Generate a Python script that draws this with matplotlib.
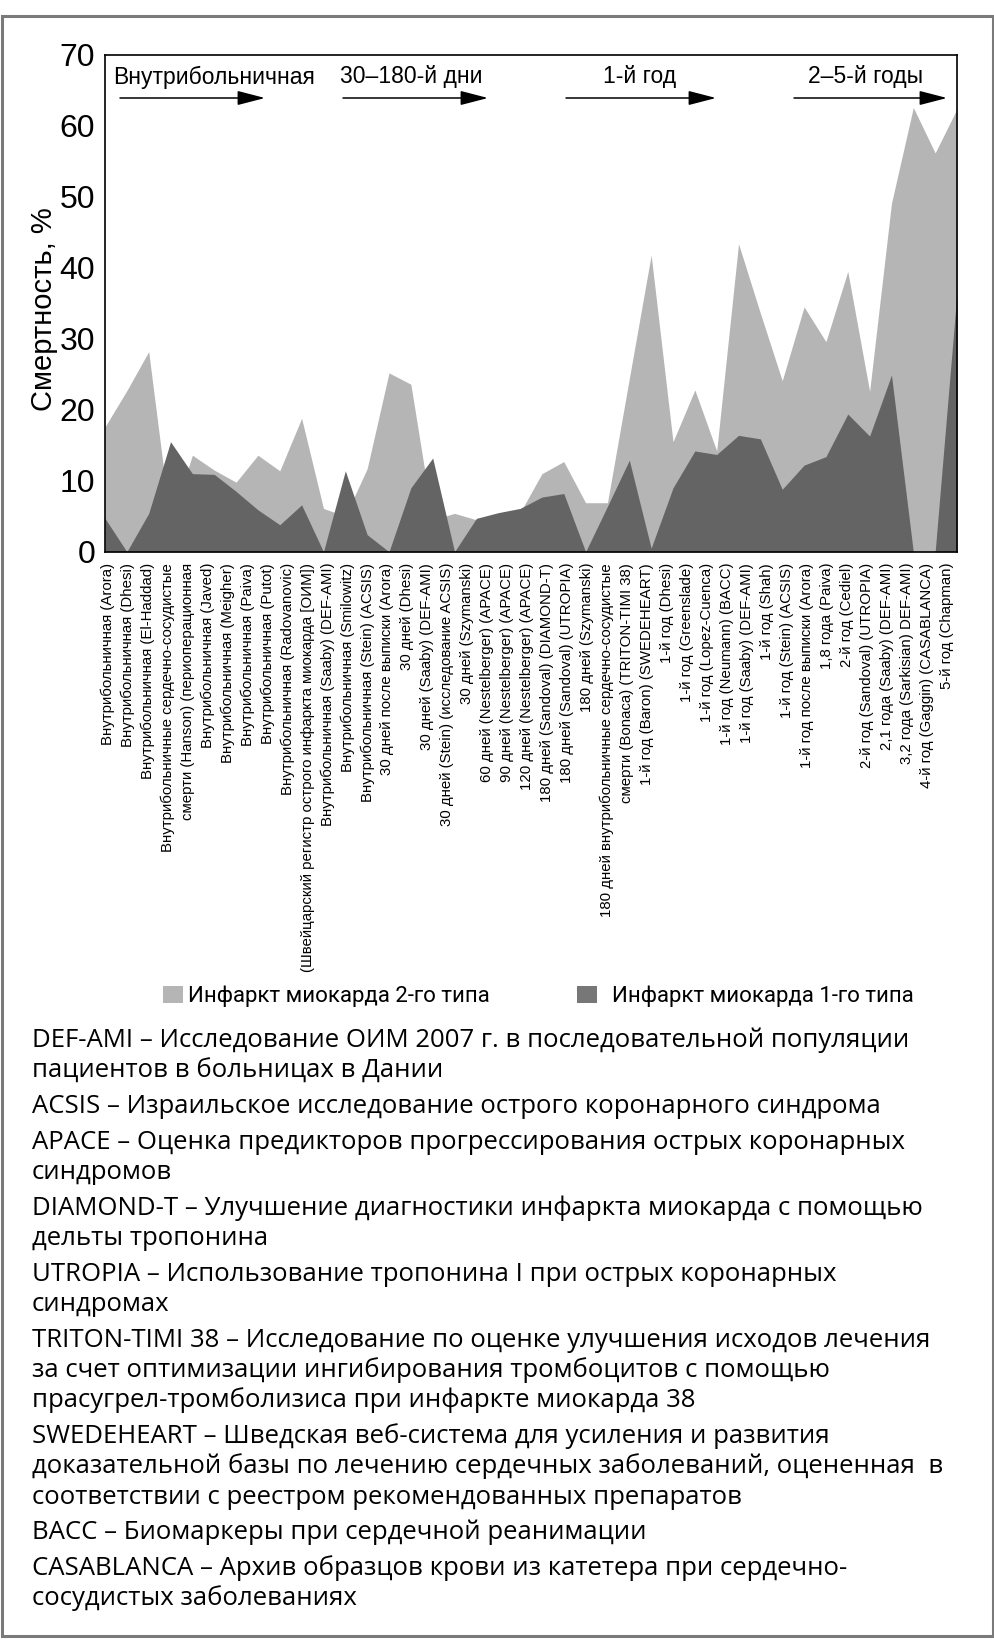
import matplotlib
matplotlib.use("Agg")
import matplotlib.pyplot as plt
from matplotlib.patches import Rectangle
import numpy as np

W, H = 995, 1641

# ---- data -----------------------------------------------------------------
categories = [
    "Внутрибольничная (Arora)",
    "Внутрибольничная (Dhesi)",
    "Внутрибольничная (El-Haddad)",
    "Внутрибольничные сердечно-сосудистые\nсмерти (Hanson) (периоперационная",
    "Внутрибольничная (Javed)",
    "Внутрибольничная (Meigher)",
    "Внутрибольничная (Paiva)",
    "Внутрибольничная (Putot)",
    "Внутрибольничная (Radovanovic)\n(Швейцарский регистр острого инфаркта миокарда [ОИМ])",
    "Внутрибольничная (Saaby) (DEF-AMI)",
    "Внутрибольничная (Smilowitz)",
    "Внутрибольничная (Stein) (ACSIS)",
    "30 дней после выписки (Arora)",
    "30 дней (Dhesi)",
    "30 дней (Saaby) (DEF-AMI)",
    "30 дней (Stein) (исследование ACSIS)",
    "30 дней (Szymanski)",
    "60 дней (Nestelberger) (APACE)",
    "90 дней (Nestelberger) (APACE)",
    "120 дней (Nestelberger) (APACE)",
    "180 дней (Sandoval) (DIAMOND-T)",
    "180 дней (Sandoval) (UTROPIA)",
    "180 дней (Szymanski)",
    "180 дней внутрибольничные сердечно-сосудистые\nсмерти (Bonaca) (TRITON-TIMI 38)",
    "1-й год (Baron) (SWEDEHEART)",
    "1-й год (Dhesi)",
    "1-й год (Greenslade)",
    "1-й год (Lopez-Cuenca)",
    "1-й год (Neumann) (BACC)",
    "1-й год (Saaby) (DEF-AMI)",
    "1-й год (Shah)",
    "1-й год (Stein) (ACSIS)",
    "1-й год после выписки (Arora)",
    "1,8 года (Paiva)",
    "2-й год (Cediel)",
    "2-й год (Sandoval) (UTROPIA)",
    "2,1 года (Saaby) (DEF-AMI)",
    "3,2 года (Sarkisian) DEF-AMI)",
    "4-й год (Gaggin) (CASABLANCA)",
    "5-й год (Chapman)",
]

# mortality, %
type2_mi = [17.6, 22.7, 28.2, 4.0, 13.6, 11.5, 9.8, 13.6, 11.4, 18.8,
            6.1, 5.0, 11.7, 25.2, 23.6, 4.5, 5.4, 4.5, 5.0, 5.5,
            11.0, 12.7, 6.9, 6.9, 24.4, 41.8, 15.5, 22.8, 14.2, 43.4,
            33.6, 24.1, 34.5, 29.6, 39.5, 22.6, 49.1, 62.6, 56.2, 62.4]
type1_mi = [4.7, 0.0, 5.4, 15.5, 11.0, 10.9, 8.5, 5.9, 3.8, 6.6,
            0.0, 11.4, 2.4, 0.0, 9.0, 13.2, 0.0, 4.7, 5.5, 6.1,
            7.7, 8.2, 0.0, 6.4, 12.9, 0.5, 9.0, 14.2, 13.7, 16.4,
            15.9, 8.8, 12.2, 13.4, 19.4, 16.3, 24.9, 0.0, 0.0, 36.5]

yticks = [0, 10, 20, 30, 40, 50, 60, 70]
periods = ["Внутрибольничная", "30–180-й дни", "1-й год", "2–5-й годы"]
legend_labels = ["Инфаркт миокарда 2-го типа", "Инфаркт миокарда 1-го типа"]

notes = [
    "DEF-AMI – Исследование ОИМ 2007 г. в последовательной популяции\n"
    "пациентов в больницах в Дании",
    "ACSIS – Израильское исследование острого коронарного синдрома",
    "APACE – Оценка предикторов прогрессирования острых коронарных\n"
    "синдромов",
    "DIAMOND-T – Улучшение диагностики инфаркта миокарда с помощью\n"
    "дельты тропонина",
    "UTROPIA – Использование тропонина I при острых коронарных\n"
    "синдромах",
    "TRITON-TIMI 38 – Исследование по оценке улучшения исходов лечения\n"
    "за счет оптимизации ингибирования тромбоцитов с помощью\n"
    "прасугрел-тромболизиса при инфаркте миокарда 38",
    "SWEDEHEART – Шведская веб-система для усиления и развития\n"
    "доказательной базы по лечению сердечных заболеваний, оцененная  в\n"
    "соответствии с реестром рекомендованных препаратов",
    "BACC – Биомаркеры при сердечной реанимации",
    "CASABLANCA – Архив образцов крови из катетера при сердечно-\n"
    "сосудистых заболеваниях",
]

LIGHT = "#b5b5b5"
DARK = "#646464"

plt.rcParams["font.family"] = ["Liberation Sans", "DejaVu Sans"]


def fx(px):
    return px / W


def fy(py):
    return 1 - py / H


fig = plt.figure(figsize=(W / 100, H / 100), dpi=100)

# outer grey frame
fig.patches.append(Rectangle((fx(2), fy(1636)), fx(991), (1636 - 16) / H,
                             transform=fig.transFigure, fill=False,
                             edgecolor="#7a7a7a", linewidth=2.2))

AX_L, AX_R, AX_T, AX_B = 105, 957, 55, 551.7
ax = fig.add_axes([fx(AX_L), fy(AX_B), (AX_R - AX_L) / W, (AX_B - AX_T) / H])

x = np.arange(len(categories))
ax.fill_between(x, type2_mi, color=LIGHT, linewidth=0)
ax.fill_between(x, type1_mi, color=DARK, linewidth=0)
ax.set_xlim(0, len(categories) - 1)
ax.set_ylim(0, 70)
for s in ax.spines.values():
    s.set_linewidth(1.2)

ax.set_yticks(yticks)
ax.tick_params(axis="y", length=0, labelsize=23, pad=7)

# x labels: one column per text line, evenly spaced under the axis
tick_lines = [ln for c in categories for ln in c.split("\n")]
span = len(categories) - 1
first_px, last_px = 107.8, 946.7
tick_pos = np.linspace(first_px - AX_L, last_px - AX_L, len(tick_lines)) / (AX_R - AX_L) * span
ax.set_xticks(tick_pos)
ax.set_xticklabels(tick_lines, rotation=90, fontsize=10.8,
                   fontfamily=["Liberation Sans Narrow", "Liberation Sans"])
ax.tick_params(axis="x", length=0, pad=8)

ax.text((44 - AX_L) / (AX_R - AX_L), (AX_B - 309) / (AX_B - AX_T), "Смертность, %",
        rotation=90, ha="center", va="center", fontsize=21, transform=ax.transAxes)

# period headers with arrows
head_cx = [214.5, 411, 640, 866]
arrow_px = [(120, 265), (343, 488), (566, 716), (794, 947)]
for label, cx, (a0, a1) in zip(periods, head_cx, arrow_px):
    ax.text((cx - AX_L) / (AX_R - AX_L), (AX_B - 77) / (AX_B - AX_T), label,
            ha="center", va="center", fontsize=16.5, transform=ax.transAxes)
    ya = (AX_B - 98) / (AX_B - AX_T)
    ax.annotate("", xy=((a1 - AX_L) / (AX_R - AX_L), ya),
                xytext=((a0 - AX_L) / (AX_R - AX_L), ya),
                xycoords="axes fraction", textcoords="axes fraction",
                arrowprops=dict(arrowstyle="-|>,head_length=0.85,head_width=0.22",
                                color="black", lw=1.1, mutation_scale=20,
                                shrinkA=0, shrinkB=0))

# legend
for (sx, tx), lab, col in zip([(163, 188), (577, 612)], legend_labels, [LIGHT, "#777777"]):
    fig.patches.append(Rectangle((fx(sx), fy(1003)), 20 / W, 17 / H,
                                 transform=fig.transFigure, color=col, linewidth=0))
    fig.text(fx(tx), fy(1002), lab, fontsize=16, ha="left", va="baseline",
             fontfamily=["Roboto", "DejaVu Sans"])

# abbreviations
base = 1047
for note in notes:
    for ln in note.split("\n"):
        fig.text(fx(32), fy(base), ln, fontsize=18.5, ha="left", va="baseline",
                 fontfamily=["Open Sans", "DejaVu Sans"])
        base += 30.4
    base += 5.2

fig.savefig("out.png", dpi=100)
